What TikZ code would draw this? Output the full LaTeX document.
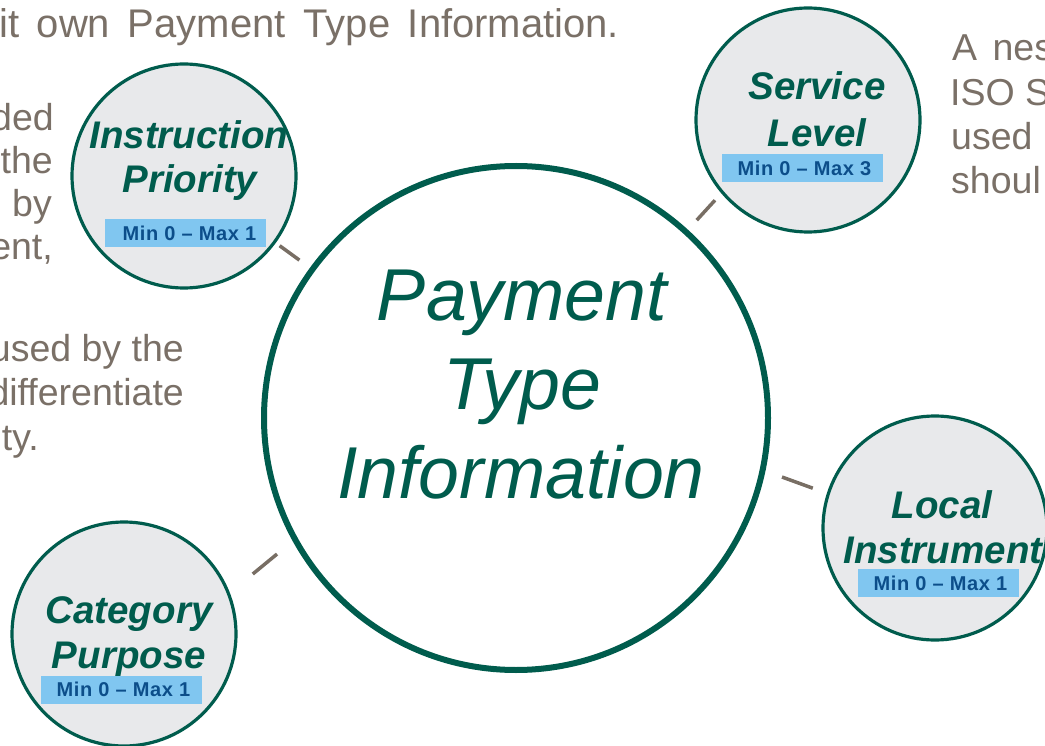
\documentclass[tikz,border=0pt]{standalone}
\usepackage{fontspec}
\setmainfont{Liberation Sans}
\usetikzlibrary{calc}
\definecolor{pgreen}{RGB}{0,92,77}
\definecolor{cfill}{RGB}{232,233,235}
\definecolor{bfill}{RGB}{128,198,240}
\definecolor{btext}{RGB}{12,78,138}
\definecolor{gtext}{RGB}{122,112,103}
\definecolor{conncol}{RGB}{120,110,100}
\begin{document}
\begin{tikzpicture}[x=1pt,y=-1pt,
  smallc/.style={circle, draw=pgreen, line width=3.2pt, fill=cfill, minimum size=224pt, inner sep=0pt, outer sep=0pt},
  bigc/.style={circle, draw=pgreen, line width=6pt, fill=white, minimum size=504pt, inner sep=0pt, outer sep=0pt},
  lbl/.style={anchor=base, inner sep=0pt, text=pgreen, font=\fontsize{38.5}{44}\selectfont\bfseries\itshape},
  ttl/.style={anchor=base, inner sep=0pt, text=pgreen, font=\fontsize{73.5}{89}\selectfont\itshape},
  mm/.style={fill=bfill, minimum width=161pt, minimum height=28pt, inner sep=0pt, text=btext, font=\fontsize{20}{22}\selectfont\bfseries\addfontfeatures{LetterSpace=3}},
  body/.style={inner sep=0pt, text=gtext, font=\fontsize{37.5}{44}\selectfont},
  conn/.style={draw=conncol, line width=3.5pt}
]
\useasboundingbox (0,0) rectangle (1045,746);
\clip (0,0) rectangle (1045,746);

% background texts
\node[body, anchor=base west, font=\fontsize{40}{44}\selectfont] (b0) at (-1,38) {\makebox[620pt][s]{it own Payment Type Information.}};
\node[body, anchor=base east] (b1) at (54,131) {ded};
\node[body, anchor=base east] (b2) at (53,174) {the};
\node[body, anchor=base east] (b3) at (52,217) {by};
\node[body, anchor=base east] (b4) at (53,260) {ent,};
\node[body, anchor=base east] (b5) at (184,361) {used by the};
\node[body, anchor=base east] (b6) at (184,405) {differentiate};
\node[body, anchor=base east] (b7) at (39,450) {ty.};
\node[body, anchor=base west] (r1) at (952,61) {A\hspace{5pt} nes};
\node[body, anchor=base west] (r2) at (950,106) {ISO S};
\node[body, anchor=base west] (r3) at (951,150) {used};
\node[body, anchor=base west] (r4) at (951,194) {shoul};

% circles
\node[bigc] (C) at (516,418) {};
\node[smallc] (IP) at (184,176) {};
\node[smallc] (SL) at (808,120) {};
\node[smallc] (LI) at (935,528) {};
\node[smallc] (CP) at (124,634) {};

% connectors
\draw[conn] ($(C)!268pt!(IP)$) -- ($(C)!292.5pt!(IP)$);
\draw[conn] ($(C)!268pt!2:(SL)$) -- ($(C)!295pt!2:(SL)$);
\draw[conn] ($(C)!272.5pt!2.2:(LI)$) -- ($(C)!305pt!1.4:(LI)$);
\draw[conn] ($(C)!275pt!0.8:(CP)$) -- ($(C)!306pt!1.8:(CP)$);

% title
\node[ttl] (t1) at (522,320) {Payment};
\node[ttl] (t2) at (522,409) {Type};
\node[ttl] (t3) at (521,498) {Information};

% min/max boxes
\node[mm] (ipm) at (185.5,233) {\hspace*{8pt}Min 0 – Max 1};
\node[mm] (slm) at (802.5,168) {\hspace*{4pt}Min 0 – Max 3};
\node[mm] (lim) at (938,583) {\hspace*{5pt}Min 0 – Max 1};
\node[mm] (cpm) at (121.5,689.5) {\hspace*{4pt}Min 0 – Max 1};

% labels
\node[lbl] (ip1) at (189,149) {Instruction};
\node[lbl] (ip2) at (190,193) {Priority};
\node[lbl] (sl1) at (817,100) {Service};
\node[lbl] (sl2) at (817,147) {Level};
\node[lbl] (li1) at (942,518) {Local};
\node[lbl] (li2) at (943,563) {Instrument};
\node[lbl] (cp1) at (129,623) {Category};
\node[lbl] (cp2) at (129,668) {Purpose};
\end{tikzpicture}
\end{document}
